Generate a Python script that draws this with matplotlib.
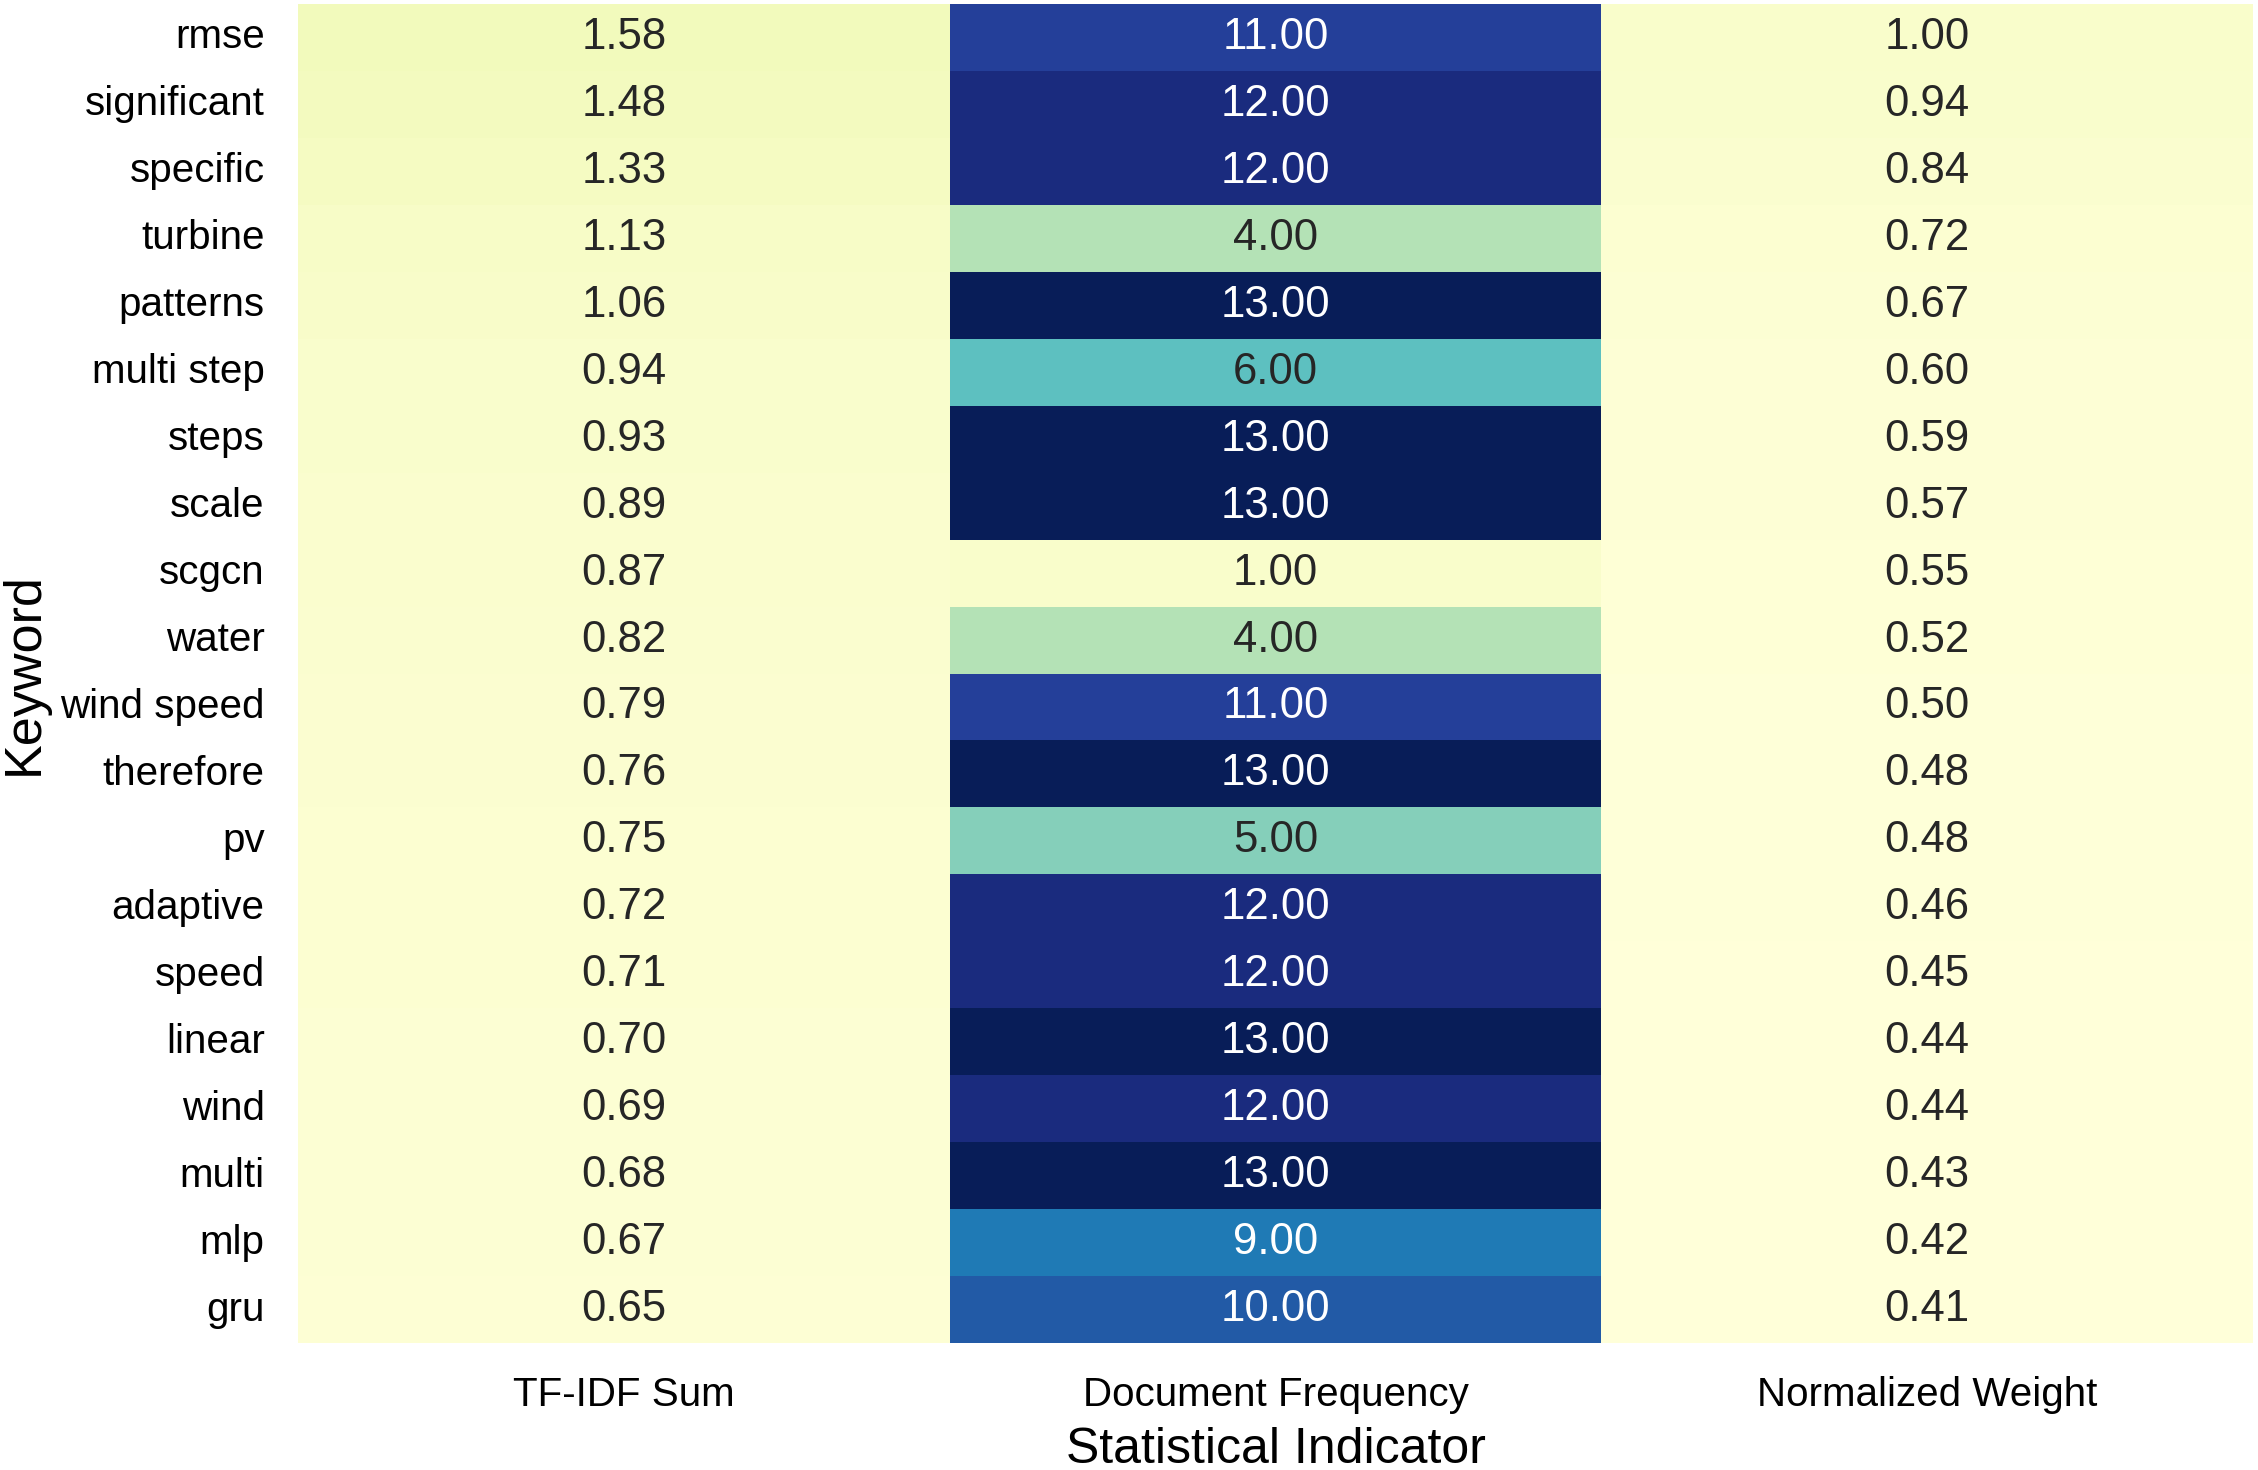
import pandas as pd
import matplotlib.pyplot as plt
import seaborn as sns

keywords = ['rmse', 'significant', 'specific', 'turbine', 'patterns', 'multi step',
            'steps', 'scale', 'scgcn', 'water', 'wind speed', 'therefore', 'pv',
            'adaptive', 'speed', 'linear', 'wind', 'multi', 'mlp', 'gru']
tfidf_sum = [1.58, 1.48, 1.33, 1.13, 1.06, 0.94, 0.93, 0.89, 0.87, 0.82,
             0.79, 0.76, 0.75, 0.72, 0.71, 0.70, 0.69, 0.68, 0.67, 0.65]
doc_freq = [11, 12, 12, 4, 13, 6, 13, 13, 1, 4,
            11, 13, 5, 12, 12, 13, 12, 13, 9, 10]
norm_weight = [1.00, 0.94, 0.84, 0.72, 0.67, 0.60, 0.59, 0.57, 0.55, 0.52,
               0.50, 0.48, 0.48, 0.46, 0.45, 0.44, 0.44, 0.43, 0.42, 0.41]

df = pd.DataFrame({'TF-IDF Sum': tfidf_sum,
                   'Document Frequency': doc_freq,
                   'Normalized Weight': norm_weight}, index=keywords)

plt.rcParams['font.family'] = ['Liberation Sans', 'DejaVu Sans']

fig = plt.figure(figsize=(2258 / 300, 1470 / 300), dpi=300)
ax = fig.add_axes([298 / 2258, 1 - 1343 / 1470, (2253 - 298) / 2258, (1343 - 4) / 1470])
sns.heatmap(df, annot=True, fmt='.2f', cmap='YlGnBu', cbar=False, ax=ax,
            annot_kws={'fontsize': 10.5})
ax.tick_params(length=0, pad=8, labelsize=9.7)
ax.set_yticklabels(keywords, rotation=0)
ax.set_xticklabels(df.columns, rotation=0)
ax.set_xlabel('Statistical Indicator', fontsize=12, labelpad=3)
ax.set_ylabel('Keyword', fontsize=12.5, labelpad=2.7)

fig.savefig('out.png', dpi=300)
